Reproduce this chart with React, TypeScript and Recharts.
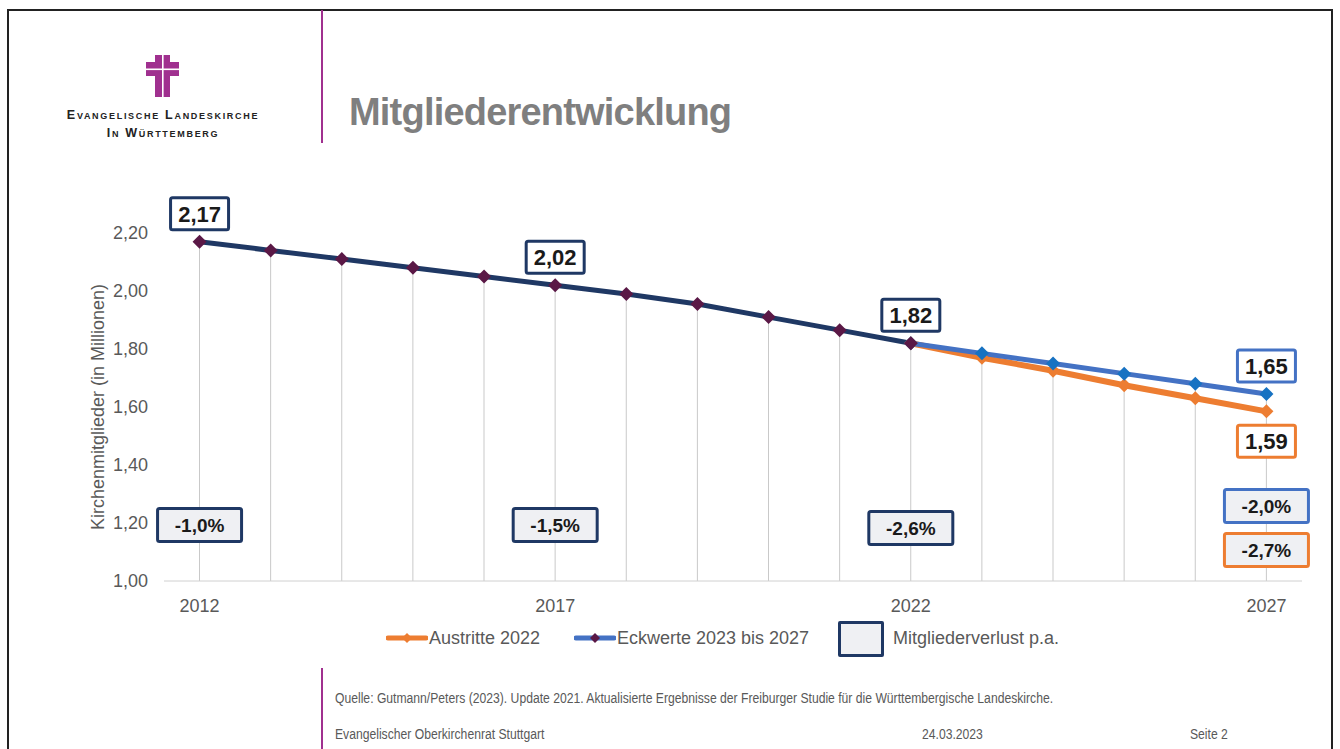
import React from 'react';
import {
  ComposedChart,
  Line,
  Bar,
  XAxis,
  YAxis,
  ReferenceDot,
} from 'recharts';

// ---------- data ----------
const years = [2012, 2013, 2014, 2015, 2016, 2017, 2018, 2019, 2020, 2021, 2022, 2023, 2024, 2025, 2026, 2027];
const historical = [2.17, 2.14, 2.11, 2.08, 2.05, 2.02, 1.99, 1.955, 1.91, 1.865, 1.82];
const forecastYears = [2022, 2023, 2024, 2025, 2026, 2027];
const eckwerte = [1.82, 1.785, 1.75, 1.715, 1.68, 1.645];
const austritte = [1.82, 1.77, 1.725, 1.675, 1.63, 1.585];
const xTicks = [2012, 2017, 2022, 2027];
const yTicks = [1.0, 1.2, 1.4, 1.6, 1.8, 2.0, 2.2];

const valueLabels = [
  { year: 2012, value: 2.17, text: '2,17', series: 'hist', side: 'above' },
  { year: 2017, value: 2.02, text: '2,02', series: 'hist', side: 'above' },
  { year: 2022, value: 1.82, text: '1,82', series: 'hist', side: 'above' },
  { year: 2027, value: 1.645, text: '1,65', series: 'eck', side: 'above' },
  { year: 2027, value: 1.585, text: '1,59', series: 'aus', side: 'below' },
];
const lossLabels = [
  { year: 2012, level: 1.193, text: '-1,0%', series: 'hist' },
  { year: 2017, level: 1.193, text: '-1,5%', series: 'hist' },
  { year: 2022, level: 1.183, text: '-2,6%', series: 'hist' },
  { year: 2027, level: 1.259, text: '-2,0%', series: 'eck' },
  { year: 2027, level: 1.107, text: '-2,7%', series: 'aus' },
];

// ---------- styles ----------
const NAVY = '#1f3864';
const PURPLE_MARK = '#5a1846';
const BLUE = '#4472c4';
const BLUE_MARK = '#1772c2';
const ORANGE = '#ed7d31';
const GRAY_TEXT = '#595959';
const FONT = '"Liberation Sans", Arial, sans-serif';
const MAGENTA = '#a0308f';

const borderOf: Record<string, string> = { hist: NAVY, eck: BLUE, aus: ORANGE };

const data = years.map((year, i) => {
  const fi = forecastYears.indexOf(year);
  const hist = i < historical.length ? historical[i] : null;
  const eck = fi >= 0 ? eckwerte[fi] : null;
  const aus = fi >= 0 ? austritte[fi] : null;
  const vals = [hist, eck, aus].filter((v) => v != null) as number[];
  return { year, hist, eck, aus, drop: Math.max(...vals) };
});

const diamond = (fill: string, s: number) => (props: any) => {
  const { cx, cy, index } = props;
  if (cx == null || cy == null || props.value == null) return <g key={`d-${index}`} />;
  return (
    <path
      key={`d-${index}`}
      d={`M${cx},${cy - s} L${cx + s},${cy} L${cx},${cy + s} L${cx - s},${cy} Z`}
      fill={fill}
    />
  );
};

const DropLine = (props: any) => {
  const { x, y, width, height } = props;
  const cx = x + width / 2;
  return <line x1={cx} x2={cx} y1={y} y2={y + height} stroke="#c9c9c9" strokeWidth={1} />;
};

const makeValueBox = (text: string, border: string, side: string) => (props: any) => {
  const { cx, cy } = props;
  const w = 58;
  const h = 32;
  const centerY = side === 'above' ? cy - 28 : cy + 30;
  return (
    <g>
      <rect x={cx - w / 2} y={centerY - h / 2} width={w} height={h} fill="#ffffff" stroke={border} strokeWidth={3} rx={2} />
      <text x={cx} y={centerY + 8} textAnchor="middle" fontFamily={FONT} fontWeight="bold" fontSize={22} fill="#1a1a1a">
        {text}
      </text>
    </g>
  );
};

const makeLossBox = (text: string, border: string) => (props: any) => {
  const { cx, cy } = props;
  const w = 84;
  const h = 33;
  return (
    <g>
      <rect x={cx - w / 2} y={cy - h / 2} width={w} height={h} fill="#eff0f3" stroke={border} strokeWidth={3} rx={2} />
      <text x={cx} y={cy + 7} textAnchor="middle" fontFamily={FONT} fontWeight="bold" fontSize={19} fill="#1a1a1a">
        {text}
      </text>
    </g>
  );
};

const YLabel = (props: any) => {
  const vb = props.viewBox || {};
  const x = 98;
  const y = vb.y + vb.height / 2;
  return (
    <text
      x={x}
      y={y}
      transform={`rotate(-90, ${x}, ${y})`}
      textAnchor="middle"
      dominantBaseline="central"
      fontFamily={FONT}
      fontSize={18}
      fill={GRAY_TEXT}
    >
      Kirchenmitglieder (in Millionen)
    </text>
  );
};

const LegendLine = ({ color, mark }: { color: string; mark: string }) => (
  <svg width={42} height={12} style={{ display: 'block' }}>
    <line x1={2} x2={40} y1={6} y2={6} stroke={color} strokeWidth={5} strokeLinecap="round" />
    <path d="M21,1 L26,6 L21,11 L16,6 Z" fill={mark} />
  </svg>
);

export default function App() {
  const abs = (l: number, t: number): React.CSSProperties => ({ position: 'absolute', left: l, top: t });
  const footer: React.CSSProperties = {
    fontSize: 14,
    color: GRAY_TEXT,
    whiteSpace: 'nowrap',
    lineHeight: '16px',
    transform: 'scaleX(0.868)',
    transformOrigin: 'left center',
  };
  const legendText: React.CSSProperties = { fontSize: 18, color: GRAY_TEXT, lineHeight: '22px', whiteSpace: 'nowrap' };
  return (
    <div style={{ position: 'absolute', left: 0, top: 0, width: 1340, height: 749, background: '#ffffff', overflow: 'hidden', fontFamily: FONT }}>
      {/* frame */}
      <div style={{ position: 'absolute', left: 7, top: 9, width: 1322, height: 760, border: '2px solid #222' }} />
      {/* magenta separators */}
      <div style={{ position: 'absolute', left: 321, top: 10, width: 2, height: 133, background: MAGENTA }} />
      <div style={{ position: 'absolute', left: 321, top: 668, width: 2, height: 90, background: MAGENTA }} />

      {/* logo */}
      <svg style={{ position: 'absolute', left: 140, top: 50 }} width={45} height={52}>
        <rect x={15} y={5} width={15} height={42} fill={MAGENTA} />
        <rect x={6} y={12} width={33} height={14} fill={MAGENTA} />
        <rect x={22} y={5} width={1.6} height={42} fill="#fff" />
        <rect x={6} y={18.5} width={33} height={1.6} fill="#fff" />
      </svg>
      <div style={{ ...abs(30, 106), width: 266, textAlign: 'center', fontSize: 12.5, fontWeight: 'bold', fontVariant: 'small-caps', letterSpacing: 1.7, color: '#222', lineHeight: '18px' }}>
        Evangelische Landeskirche
        <br />
        In Württemberg
      </div>

      {/* title */}
      <div style={{ ...abs(349, 88), fontSize: 38, fontWeight: 'bold', color: '#7f7f7f', letterSpacing: -0.8, lineHeight: '48px' }}>
        Mitgliederentwicklung
      </div>

      {/* chart */}
      <div style={{ position: 'absolute', left: 0, top: 0 }}>
        <ComposedChart
          width={1340}
          height={749}
          data={data}
          margin={{ top: 233, right: 38, bottom: 138, left: 104 }}
        >
          <XAxis
            dataKey="year"
            type="number"
            domain={[2011.5, 2027.5]}
            ticks={xTicks}
            tickLine={false}
            axisLine={{ stroke: '#d0d0d0' }}
            height={30}
            tickMargin={12}
            tick={{ fill: GRAY_TEXT, fontSize: 18, fontFamily: FONT }}
            interval={0}
          />
          <YAxis
            type="number"
            domain={[1, 2.2]}
            ticks={yTicks}
            width={60}
            axisLine={false}
            tickLine={false}
            tickMargin={10}
            tick={{ fill: GRAY_TEXT, fontSize: 18, fontFamily: FONT }}
            tickFormatter={(v: number) => v.toFixed(2).replace('.', ',')}
            label={<YLabel />}
          />
          <Bar dataKey="drop" barSize={1} shape={<DropLine />} isAnimationActive={false} />
          <Line
            dataKey="aus"
            stroke={ORANGE}
            strokeWidth={6}
            dot={diamond(ORANGE, 7)}
            activeDot={false}
            isAnimationActive={false}
            connectNulls={false}
          />
          <Line
            dataKey="eck"
            stroke={BLUE}
            strokeWidth={5}
            dot={diamond(BLUE_MARK, 7)}
            activeDot={false}
            isAnimationActive={false}
            connectNulls={false}
          />
          <Line
            dataKey="hist"
            stroke={NAVY}
            strokeWidth={5}
            dot={diamond(PURPLE_MARK, 7)}
            activeDot={false}
            isAnimationActive={false}
            connectNulls={false}
          />
          {valueLabels.map((l, i) => (
            <ReferenceDot
              key={`v-${i}`}
              x={l.year}
              y={l.value}
              r={0}
              shape={makeValueBox(l.text, borderOf[l.series], l.side)}
            />
          ))}
          {lossLabels.map((l, i) => (
            <ReferenceDot
              key={`l-${i}`}
              x={l.year}
              y={l.level}
              r={0}
              shape={makeLossBox(l.text, borderOf[l.series])}
            />
          ))}
        </ComposedChart>
      </div>

      {/* legend */}
      <div style={{ ...abs(386, 632) }}>
        <LegendLine color={ORANGE} mark={ORANGE} />
      </div>
      <div style={{ ...abs(429, 627), ...legendText }}>Austritte 2022</div>
      <div style={{ ...abs(574, 632) }}>
        <LegendLine color={BLUE} mark={PURPLE_MARK} />
      </div>
      <div style={{ ...abs(617, 627), ...legendText }}>Eckwerte 2023 bis 2027</div>
      <div style={{ ...abs(838, 621), width: 40, height: 30, border: `3px solid ${NAVY}`, background: '#eff0f3', borderRadius: 2 }} />
      <div style={{ ...abs(893, 627), ...legendText }}>Mitgliederverlust p.a.</div>

      {/* footer */}
      <div style={{ ...abs(335, 690), ...footer }}>
        Quelle: Gutmann/Peters (2023). Update 2021. Aktualisierte Ergebnisse der Freiburger Studie für die Württembergische Landeskirche.
      </div>
      <div style={{ ...abs(335, 726), ...footer }}>
        Evangelischer Oberkirchenrat Stuttgart
      </div>
      <div style={{ ...abs(922, 726), ...footer }}>
        24.03.2023
      </div>
      <div style={{ ...abs(1190, 726), ...footer }}>
        Seite 2
      </div>
    </div>
  );
}
